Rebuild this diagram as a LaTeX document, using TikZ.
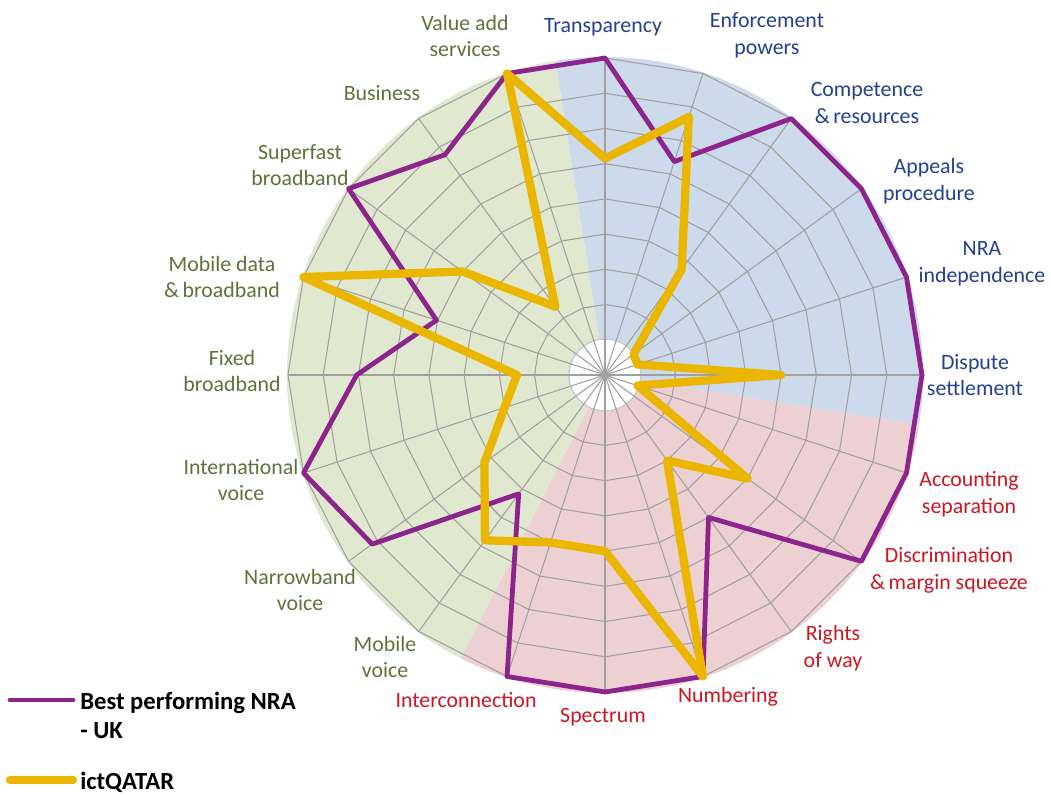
\documentclass[tikz,border=0pt]{standalone}
\usepackage{fontspec}
\setmainfont{Carlito}
\definecolor{ukpurple}{RGB}{140,36,140}
\definecolor{qyellow}{RGB}{235,182,0}
\definecolor{bgblue}{RGB}{204,218,235}
\definecolor{bggreen}{RGB}{224,233,208}
\definecolor{bgred}{RGB}{237,209,210}
\definecolor{lblblue}{RGB}{35,64,145}
\definecolor{lblgreen}{RGB}{94,115,57}
\definecolor{lblred}{RGB}{205,22,32}
\definecolor{gridgray}{RGB}{160,160,160}
\begin{document}
\begin{tikzpicture}[x=0.75pt,y=0.75pt,
  lbl/.style={font=\fontsize{16.4}{20}\selectfont, align=center, inner sep=0pt},
  lb/.style={lbl,text=lblblue},
  lg/.style={lbl,text=lblgreen},
  lr/.style={lbl,text=lblred},
  gridline/.style={draw=gridgray, line width=0.8pt},
  ukline/.style={draw=ukpurple, line width=3.6pt, line join=round},
  qline/.style={draw=qyellow, line width=6.2pt, line join=round},
  legtext/.style={font=\fontsize{18.5}{21.75}\selectfont\bfseries, align=left, anchor=west, inner sep=0pt}]
\useasboundingbox (-605,-419) rectangle (446,375);
\def\U{35.222}
% background sectors
\fill[bgblue] (0,0) -- (-9:318) arc[start angle=-9, end angle=99, radius=318] -- cycle;
\fill[bgred] (0,0) -- (-117:318) arc[start angle=-117, end angle=-9, radius=318] -- cycle;
\fill[bggreen] (0,0) -- (99:318) arc[start angle=99, end angle=243, radius=318] -- cycle;
% hole
\fill[white] (0,0) circle[radius=36.5];
% rings
\foreach \k in {2,...,9}{
  \draw[gridline] (90:{\k*\U}) \foreach \i in {1,...,19}{ -- ({90-18*\i}:{\k*\U})} -- cycle;
}
\draw[draw=gridgray!60, line width=1pt] (0,0) circle[radius=36];
% spokes
\foreach \i in {0,...,19}{
  \draw[gridline] (0,0) -- ({90-18*\i}:{9*\U});
}
\fill[gridgray] (0,0) circle[radius=3.5];
% data points
\def\ukvals{9,6.37,9,9,9,9,9,9,5,9,9,9,4.17,8.17,9,7.05,5.03,9,7.73,9}
\def\qvals{6.15,7.7,3.7,1.0,0.97,5.0,0.97,5.0,3.0,9,5.0,5.0,5.8,4.23,3.0,2.5,9,5.0,2.4,9}
\foreach \v [count=\i from 0] in \ukvals { \coordinate (uk\i) at ({90-18*\i}:{\v*\U}); }
\foreach \v [count=\i from 0] in \qvals { \coordinate (q\i) at ({90-18*\i}:{\v*\U}); }
\draw[ukline] (uk0) \foreach \i in {1,...,19}{ -- (uk\i)} -- cycle;
\draw[qline] (q0) \foreach \i in {1,...,19}{ -- (q\i)} -- cycle;
% labels
\node[lg] (valueadd) at (-140,339) {Value add\\services};
\node[lb] (transparency) at (-2,348) {Transparency};
\node[lb] (enforcement) at (162,340) {Enforcement\\powers};
\node[lb] (competence) at (262,272) {Competence\\\&\,resources};
\node[lb] (appeals) at (324,194) {Appeals\\procedure};
\node[lb] (nra) at (377,111) {NRA\\independence};
\node[lb] (dispute) at (370,0) {Dispute\\settlement};
\node[lr] (accounting) at (364,-119) {Accounting\\separation};
\node[lr] (discrimination) at (344,-195) {Discrimination\\\&\,margin squeeze};
\node[lr] (rights) at (228,-273) {Rights\\of way};
\node[lr] (numbering) at (123,-322) {Numbering};
\node[lr] (spectrum) at (-2,-342) {Spectrum};
\node[lr] (interconnection) at (-139,-325) {Interconnection};
\node[lg] (mobilevoice) at (-220,-282) {Mobile\\voice};
\node[lg] (narrowband) at (-305,-215) {Narrowband\\voice};
\node[lg] (international) at (-364,-105) {International\\voice};
\node[lg] (fixed) at (-373,4) {Fixed\\broadband};
\node[lg] (mobiledata) at (-383,98) {Mobile data\\\&\,broadband};
\node[lg] (superfast) at (-305,210) {Superfast\\broadband};
\node[lg] (business) at (-223,282) {Business};
% legend
\coordinate (legUKa) at (-595,-325);
\coordinate (legUKb) at (-532,-325);
\coordinate (legQa) at (-595,-405);
\coordinate (legQb) at (-532,-405);
\draw[ukline, line cap=round] (legUKa) -- (legUKb);
\draw[qline, line cap=round] (legQa) -- (legQb);
\node[legtext] (legUK) at (-525,-340.5) {Best performing NRA\\- UK};
\node[legtext] (legQ) at (-525,-407) {ictQATAR};
\end{tikzpicture}
\end{document}
